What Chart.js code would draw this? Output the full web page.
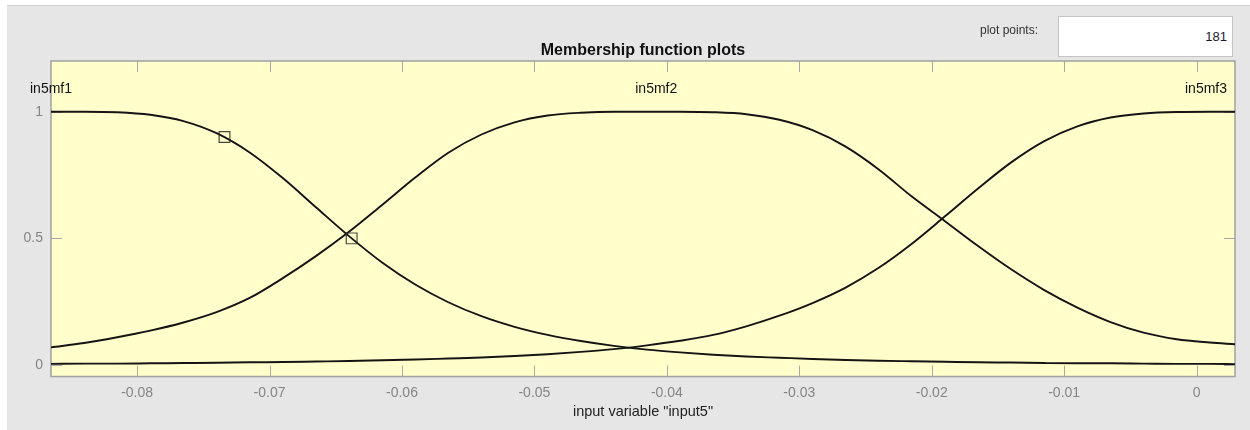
<!DOCTYPE html>
<html>
<head>
<meta charset="utf-8">
<script src="https://cdn.jsdelivr.net/npm/chart.js@4/dist/chart.umd.min.js"></script>
<style>
  html, body { margin: 0; padding: 0; background: #ffffff; }
  #panel {
    position: absolute; left: 7px; top: 5px; width: 1243px; height: 425px;
    background: #e6e6e6; border-top: 1px solid #d2d2d2; box-sizing: border-box;
  }
  #wrap { position: absolute; left: 0; top: 0; width: 1250px; height: 430px; }
  #ppLabel {
    position: absolute; left: 980px; top: 23px; font: 12px "Liberation Sans", Arial, sans-serif;
    color: #333333; white-space: nowrap; z-index: 2;
  }
  #ppBox {
    position: absolute; left: 1058px; top: 16px; width: 175px; height: 41px; box-sizing: border-box;
    background: #ffffff; border: 1px solid #c4c4c4; z-index: 2;
    font: 13px "Liberation Sans", Arial, sans-serif; color: #1a1a2a;
    text-align: right; padding-right: 5px; line-height: 40px;
  }
</style>
</head>
<body>
<div id="panel"></div>
<div id="wrap"><canvas id="chart" width="1250" height="430"></canvas></div>
<div id="ppLabel">plot points:</div>
<div id="ppBox">181</div>
<script>
// Input range of input5
const xMin = -0.0865;
const xMax = 0.0029;

// Sample positions along input5
const xs = [-0.0865, -0.084, -0.0815, -0.079, -0.0765, -0.074, -0.0715, -0.069, -0.0665, -0.064,
            -0.0615, -0.059, -0.0565, -0.054, -0.0515, -0.049, -0.0465, -0.044, -0.0415, -0.039,
            -0.0365, -0.034, -0.0315, -0.029, -0.0265, -0.024, -0.0215, -0.019, -0.0165, -0.014,
            -0.0115, -0.009, -0.0065, -0.004, -0.0015, 0.001, 0.0029];

// Membership degrees
const in5mf1 = [1.000, 1.000, 0.998, 0.988, 0.963, 0.915, 0.839, 0.738, 0.623, 0.509,
                0.405, 0.318, 0.248, 0.193, 0.151, 0.119, 0.095, 0.076, 0.061, 0.050,
                0.041, 0.034, 0.029, 0.024, 0.020, 0.017, 0.015, 0.013, 0.011, 0.010,
                0.008, 0.007, 0.007, 0.006, 0.005, 0.005, 0.004];
const in5mf2 = [0.070, 0.087, 0.110, 0.136, 0.168, 0.209, 0.265, 0.343, 0.430, 0.526,
                0.632, 0.740, 0.838, 0.910, 0.958, 0.985, 0.996, 1.000, 1.000, 1.000,
                0.998, 0.990, 0.968, 0.927, 0.862, 0.772, 0.665, 0.568, 0.470, 0.378,
                0.296, 0.227, 0.170, 0.128, 0.102, 0.089, 0.082];
const in5mf3 = [0.005, 0.006, 0.006, 0.007, 0.008, 0.009, 0.011, 0.012, 0.014, 0.016,
                0.019, 0.022, 0.026, 0.030, 0.036, 0.043, 0.052, 0.063, 0.078, 0.096,
                0.119, 0.153, 0.195, 0.245, 0.306, 0.384, 0.479, 0.587, 0.697, 0.800,
                0.884, 0.942, 0.977, 0.993, 0.999, 1.000, 1.000];

// Function names and where their labels sit on the input axis
const mfNames = ['in5mf1', 'in5mf2', 'in5mf3'];
const mfLabelX = [-0.0865, -0.0408, 0.0029];

// Handles on the selected function (in5mf1)
const handleX = [-0.0734, -0.0638];
const handleY = [0.9, 0.5];

// Axis ticks
const xTickVals = [-0.08, -0.07, -0.06, -0.05, -0.04, -0.03, -0.02, -0.01, 0];
const xTickLabels = ['-0.08', '-0.07', '-0.06', '-0.05', '-0.04', '-0.03', '-0.02', '-0.01', '0'];
const yTickVals = [0, 0.5, 1];
const yTickLabels = ['0', '0.5', '1'];

const FONT = '"Liberation Sans", Arial, Helvetica, sans-serif';

function curve(values) {
  return xs.map((x, i) => ({ x: x, y: values[i] }));
}

function lineSet(name, values) {
  return {
    label: name,
    type: 'line',
    data: curve(values),
    borderColor: '#141414',
    borderWidth: 1.9,
    pointRadius: 0,
    fill: false,
    cubicInterpolationMode: 'monotone',
    showLine: true,
    order: 2
  };
}

// Yellow plot face, inner tick marks, the axes box and the function labels
const axesFace = {
  id: 'axesFace',
  beforeDatasetsDraw(chart) {
    const { ctx, chartArea: a, scales } = chart;
    ctx.save();
    ctx.fillStyle = '#ffffcc';
    ctx.fillRect(a.left, a.top, a.right - a.left, a.bottom - a.top);
    ctx.strokeStyle = '#a8a8a8';
    ctx.lineWidth = 1;
    const tl = 11;
    ctx.beginPath();
    xTickVals.forEach(v => {
      const px = Math.round(scales.x.getPixelForValue(v)) + 0.5;
      ctx.moveTo(px, a.bottom); ctx.lineTo(px, a.bottom - tl);
      ctx.moveTo(px, a.top); ctx.lineTo(px, a.top + tl);
    });
    yTickVals.forEach(v => {
      const py = Math.round(scales.y.getPixelForValue(v)) + 0.5;
      ctx.moveTo(a.left, py); ctx.lineTo(a.left + tl, py);
      ctx.moveTo(a.right, py); ctx.lineTo(a.right - tl, py);
    });
    ctx.stroke();
    ctx.strokeStyle = '#a0a0a0';
    ctx.lineWidth = 1.5;
    ctx.strokeRect(a.left, a.top, a.right - a.left, a.bottom - a.top);
    ctx.restore();
  },
  afterDatasetsDraw(chart) {
    const { ctx, chartArea: a, scales } = chart;
    ctx.save();
    ctx.font = '14px ' + FONT;
    ctx.fillStyle = '#111111';
    ctx.textBaseline = 'middle';
    ctx.textAlign = 'left';
    const yLab = 89;
    mfNames.forEach((name, i) => {
      const w = ctx.measureText(name).width;
      let left = scales.x.getPixelForValue(mfLabelX[i]) - w / 2;
      if (left + w > a.right - 8) left = a.right - 8 - w;
      ctx.fillText(name, left, yLab);
    });
    ctx.restore();
  }
};

new Chart(document.getElementById('chart'), {
  type: 'scatter',
  data: {
    datasets: [
      lineSet('in5mf1', in5mf1),
      lineSet('in5mf2', in5mf2),
      lineSet('in5mf3', in5mf3),
      {
        label: 'handles',
        type: 'scatter',
        data: handleX.map((x, i) => ({ x: x, y: handleY[i] })),
        pointStyle: 'rect',
        pointRadius: 7.6,
        pointBorderColor: 'rgba(40,40,40,0.85)',
        pointBackgroundColor: 'rgba(0,0,0,0)',
        pointBorderWidth: 1.2,
        order: 1
      }
    ]
  },
  options: {
    responsive: false,
    animation: false,
    events: [],
    layout: { padding: { left: 0, right: 15, top: 0, bottom: 0 } },
    plugins: {
      legend: { display: false },
      tooltip: { enabled: false },
      title: {
        display: true,
        text: 'Membership function plots',
        fullSize: false,
        color: '#111111',
        font: { family: FONT, size: 16, weight: 'bold' },
        padding: { top: 40.5, bottom: 1.3 }
      }
    },
    scales: {
      x: {
        type: 'linear',
        min: xMin,
        max: xMax,
        grid: { display: false, drawTicks: false, tickLength: 0 },
        border: { display: false },
        afterBuildTicks: s => { s.ticks = xTickVals.map(v => ({ value: v })); },
        afterFit: s => { s.height = 53.5; },
        ticks: {
          autoSkip: false,
          maxRotation: 0,
          padding: 8,
          color: '#858585',
          font: { family: FONT, size: 14 },
          callback: (v, i) => xTickLabels[i]
        },
        title: {
          display: true,
          text: 'input variable "input5"',
          color: '#222222',
          font: { family: FONT, size: 14.5 },
          padding: { top: 0, bottom: 9 }
        }
      },
      y: {
        type: 'linear',
        min: -0.045,
        max: 1.2,
        grid: { display: false, drawTicks: false, tickLength: 0 },
        border: { display: false },
        afterBuildTicks: s => { s.ticks = yTickVals.map(v => ({ value: v })); },
        afterFit: s => { s.width = 51; },
        ticks: {
          padding: 8,
          color: '#858585',
          font: { family: FONT, size: 14 },
          callback: (v, i) => yTickLabels[i]
        }
      }
    }
  },
  plugins: [axesFace]
});
</script>
</body>
</html>
